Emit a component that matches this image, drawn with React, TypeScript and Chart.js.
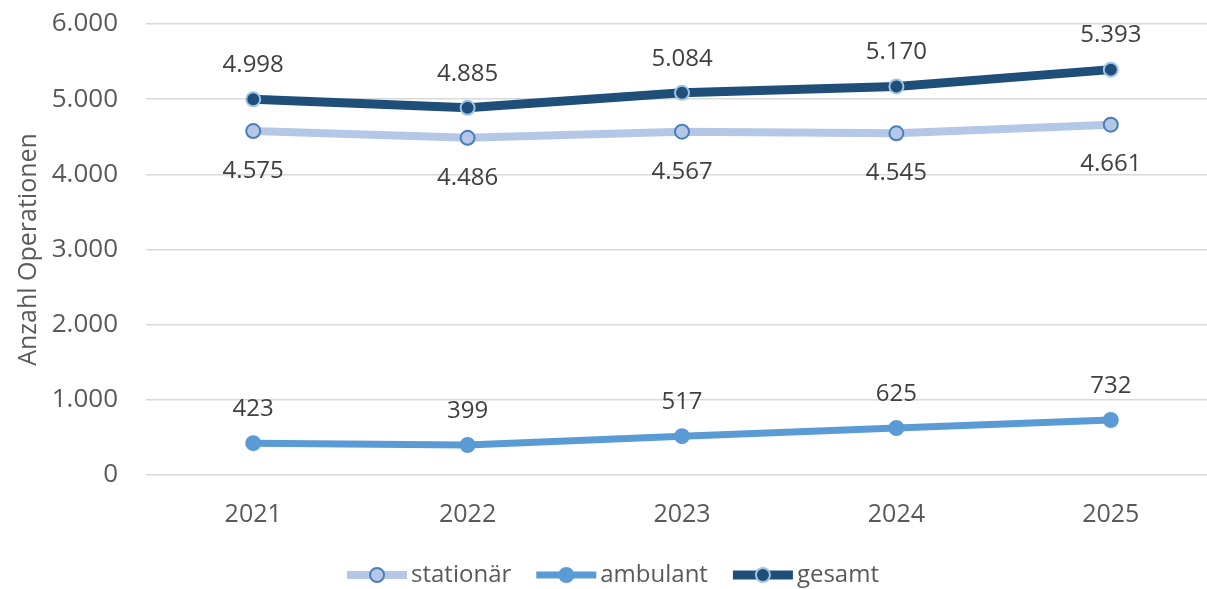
import React, { useEffect, useRef } from "react";
import { Chart, registerables } from "chart.js";

Chart.register(...registerables);

const years = ["2021", "2022", "2023", "2024", "2025"];
const stationaer = [4575, 4486, 4567, 4545, 4661];
const ambulant = [423, 399, 517, 625, 732];
const gesamt = [4998, 4885, 5084, 5170, 5393];
const yTicks = [0, 1000, 2000, 3000, 4000, 5000, 6000];

const FONT = "'Open Sans', 'DejaVu Sans', sans-serif";

function fmt(v: number): string {
  const s = Math.round(v).toString();
  return s.replace(/\B(?=(\d{3})+(?!\d))/g, ".");
}

export default function App() {
  const ref = useRef<HTMLCanvasElement | null>(null);

  useEffect(() => {
    if (!ref.current) return;
    document.body.style.overflow = "hidden";

    const styles = [
      { line: "#B4C7E7", fill: "#B4C7E7", border: "#4A7EBB", lw: 8, off: 40 },
      { line: "#5B9BD5", fill: "#5B9BD5", border: "#5B9BD5", lw: 7, off: -34 },
      { line: "#1F4E79", fill: "#1F4E79", border: "#9DC3E6", lw: 9, off: -34 },
    ];

    const labelPlugin = {
      id: "valueLabels",
      afterDatasetsDraw(chart: any) {
        const ctx = chart.ctx;
        ctx.save();
        ctx.font = `24px ${FONT}`;
        ctx.fillStyle = "#404040";
        ctx.textAlign = "center";
        ctx.textBaseline = "middle";
        chart.data.datasets.forEach((ds: any, i: number) => {
          const meta = chart.getDatasetMeta(i);
          meta.data.forEach((pt: any, j: number) => {
            ctx.fillText(fmt(ds.data[j]), pt.x, pt.y + styles[i].off);
          });
        });
        ctx.restore();
      },
    };

    const legendPlugin = {
      id: "lineLegend",
      afterDraw(chart: any) {
        const ctx = chart.ctx;
        const iconW = 60;
        const gapIcon = 4;
        const gapItem = 25;
        const y = 575;
        ctx.save();
        ctx.font = `24px ${FONT}`;
        const items = chart.data.datasets.map((ds: any, i: number) => ({
          text: ds.label,
          tw: ctx.measureText(ds.label).width,
          s: styles[i],
        }));
        const total =
          items.reduce((a: number, it: any) => a + iconW + gapIcon + it.tw, 0) +
          gapItem * (items.length - 1);
        let x = chart.width / 2 - total / 2;
        items.forEach((it: any) => {
          ctx.strokeStyle = it.s.line;
          ctx.lineWidth = it.s.lw;
          ctx.lineCap = "butt";
          ctx.beginPath();
          ctx.moveTo(x, y);
          ctx.lineTo(x + iconW, y);
          ctx.stroke();
          ctx.beginPath();
          ctx.arc(x + iconW / 2, y, 7, 0, Math.PI * 2);
          ctx.fillStyle = it.s.fill;
          ctx.fill();
          ctx.lineWidth = 2;
          ctx.strokeStyle = it.s.border;
          ctx.stroke();
          x += iconW + gapIcon;
          ctx.fillStyle = "#595959";
          ctx.textAlign = "left";
          ctx.textBaseline = "middle";
          ctx.fillText(it.text, x, y);
          x += it.tw + gapItem;
        });
        ctx.restore();
      },
    };

    const mk = (label: string, data: number[], i: number) => ({
      label,
      data,
      borderColor: styles[i].line,
      backgroundColor: styles[i].fill,
      borderWidth: styles[i].lw,
      pointRadius: 7,
      pointBorderWidth: 2,
      pointBackgroundColor: styles[i].fill,
      pointBorderColor: styles[i].border,
      tension: 0,
      borderCapStyle: "round" as const,
    });

    const chart = new Chart(ref.current, {
      type: "line",
      data: {
        labels: years,
        datasets: [
          mk("stationär", stationaer, 0),
          mk("ambulant", ambulant, 1),
          mk("gesamt", gesamt, 2),
        ],
      },
      plugins: [labelPlugin, legendPlugin],
      options: {
        animation: false,
        responsive: false,
        maintainAspectRatio: false,
        layout: { autoPadding: false, padding: { left: 10, right: 8, top: 24, bottom: 58 } },
        plugins: {
          tooltip: { enabled: false },
          legend: { display: false },
        },
        scales: {
          x: {
            offset: true,
            afterFit: (s: any) => {
              s.height = 56;
              s.paddingLeft = 0;
              s.paddingRight = 0;
            },
            grid: { display: false, drawTicks: false },
            border: { display: false },
            ticks: {
              color: "#595959",
              padding: 25,
              font: { family: FONT, size: 25 },
            },
          },
          y: {
            min: 0,
            max: 6000,
            afterFit: (s: any) => {
              s.width = 136;
              s.paddingTop = 0;
              s.paddingBottom = 0;
            },
            afterBuildTicks: (s: any) => {
              s.ticks = yTicks.map((v) => ({ value: v }));
            },
            grid: { color: "#D9D9D9", lineWidth: 1.5, drawTicks: false },
            border: { display: false },
            title: {
              display: true,
              text: "Anzahl Operationen",
              color: "#595959",
              font: { family: FONT, size: 25 },
              padding: 4,
            },
            ticks: {
              color: "#595959",
              padding: 28,
              font: { family: FONT, size: 26 },
              callback: (v: any) => fmt(Number(v)),
            },
          },
        },
      },
    });
    return () => chart.destroy();
  }, []);

  return (
    <div style={{ position: "absolute", left: 0, top: 0, width: 1207, height: 589, overflow: "hidden" }}>
      <canvas ref={ref} width={1226} height={589} style={{ display: "block", width: 1226, height: 589 }} />
    </div>
  );
}
